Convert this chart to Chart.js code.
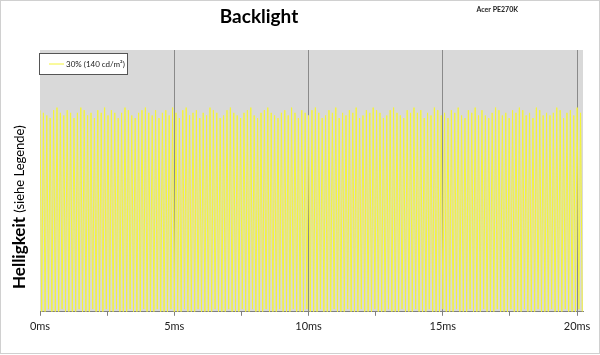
<!DOCTYPE html>
<html>
<head>
<meta charset="utf-8">
<script src="https://cdn.jsdelivr.net/npm/chart.js@4.4.1/dist/chart.umd.min.js"></script>
<style>
  body { margin: 0; background: #fff; }
  #wrap { width: 600px; height: 355px; }
</style>
</head>
<body>
<div id="wrap"><canvas id="myChart" width="600" height="355"></canvas></div>
<script>
// Chart texts
const chartTitle = "Backlight";
const deviceName = "Acer PE270K";
const seriesLabel = "30% (140 cd/m²)";

// x axis: tick positions (ms) and the labels shown under them
const tickValues = [0, 2.5, 5, 7.5, 10, 12.5, 15, 17.5, 20];
const tickLabels = ["0ms", "", "5ms", "", "10ms", "", "15ms", "", "20ms"];

// Sampling interval of the measurement (ms)
const sampleStepMs = 0.0633;

// Brightness samples (relative units)
const brightness = [
  77,0,76,0,75,1,74,0,77,0,78,0,76,1,75,0,77,0,76,0,
  74,0,76,1,78,0,77,0,75,0,76,1,74,0,77,0,76,0,78,1,
  75,0,77,0,76,1,74,0,76,0,78,0,77,1,75,0,74,0,76,0,
  77,1,78,0,76,0,75,0,77,1,74,0,76,0,77,0,75,1,78,0,
  76,0,74,0,77,1,78,0,75,0,76,0,77,1,74,0,76,0,75,0,
  78,0,77,1,76,0,74,0,75,0,77,1,78,0,76,0,75,0,74,1,
  76,0,77,0,78,1,75,0,74,0,76,0,77,1,78,0,76,0,75,0,
  74,1,76,0,77,0,75,0,78,1,76,0,74,0,77,0,76,1,75,0,
  77,0,78,0,76,1,74,0,75,0,77,0,76,1,78,0,74,0,76,0,
  75,1,77,0,76,0,78,0,74,1,75,0,77,0,76,0,78,1,77,0,
  76,0,74,0,75,1,77,0,78,0,76,0,75,1,74,0,77,0,76,0,
  78,1,76,0,77,0,74,0,76,1,75,0,78,0,77,0,75,1,76,0,
  74,0,77,0,76,1,78,0,75,0,74,0,77,1,76,0,78,0,75,0,
  77,1,75,0,74,0,76,0,78,1,77,0,75,0,76,0,74,1,77,0,
  76,0,78,0,77,1,75,0,76,0,74,0,78,1,77,0,75,0,76,0,
  75,1,76,0,78,0,77,0,74,1,76,0,77,0,75,0,78,1,76,0
];

const points = brightness.map((v, i) => ({ x: i * sampleStepMs, y: v }));

// Grey plot background, frame, title, legend and y title
const decorations = {
  id: "decorations",
  beforeDraw(chart) {
    const { ctx, chartArea: a } = chart;
    ctx.save();
    ctx.fillStyle = "#d9d9d9";
    ctx.fillRect(a.left, a.top, a.right - a.left, a.bottom - a.top);
    ctx.restore();
  },
  afterDraw(chart) {
    const ctx = chart.ctx;
    ctx.save();
    // frame
    ctx.strokeStyle = "#d0d0d0";
    ctx.lineWidth = 1;
    ctx.strokeRect(0.5, 0.5, 599, 353);

    // title
    ctx.fillStyle = "#000";
    ctx.textAlign = "center";
    ctx.textBaseline = "middle";
    ctx.font = "bold 19px Lato";
    ctx.fillText(chartTitle, 259, 17);

    ctx.font = "bold 7px Lato";
    ctx.textAlign = "right";
    ctx.fillStyle = "#222";
    ctx.fillText(deviceName, 518, 10);

    // legend box
    ctx.fillStyle = "#fff";
    ctx.fillRect(39, 53, 88, 21);
    ctx.strokeStyle = "#555";
    ctx.strokeRect(39.5, 53.5, 88, 21);
    ctx.strokeStyle = chart.data.datasets[0].borderColor;
    ctx.beginPath();
    ctx.moveTo(49, 64);
    ctx.lineTo(64, 64);
    ctx.stroke();
    ctx.fillStyle = "#222";
    ctx.textAlign = "left";
    ctx.font = "8px Lato";
    ctx.fillText(chart.data.datasets[0].label, 66, 64);

    // y axis title
    ctx.translate(20, 289);
    ctx.rotate(-Math.PI / 2);
    ctx.textAlign = "left";
    ctx.fillStyle = "#000";
    ctx.font = "bold 17px Lato";
    ctx.fillText("Helligkeit", 0, 0);
    const w = ctx.measureText("Helligkeit ").width;
    ctx.font = "13px Lato";
    ctx.fillText("(siehe Legende)", w, 0);
    ctx.restore();
  },
};

new Chart("myChart", {
  type: "line",
  data: {
    datasets: [
      {
        label: seriesLabel,
        data: points,
        borderColor: "#f4f43a",
        borderWidth: 1,
        pointRadius: 0,
        tension: 0,
        fill: false,
      },
    ],
  },
  options: {
    responsive: false,
    animation: false,
    layout: {
      padding: { left: 40, right: 17, top: 50, bottom: 18 },
    },
    scales: {
      x: {
        type: "linear",
        min: 0,
        max: 20.22,
        afterBuildTicks: (scale) => {
          scale.ticks = tickValues.map((v) => ({ value: v }));
        },
        ticks: {
          autoSkip: false,
          maxRotation: 0,
          padding: 4,
          color: "#222",
          font: { size: 11, family: "Lato" },
          callback: (value, index) => tickLabels[index],
        },
        grid: {
          color: (c) =>
            c.tick && c.tick.value > 0 && c.tick.value % 5 === 0
              ? "#8a8a8a"
              : "rgba(0,0,0,0)",
          tickColor: "#808080",
          tickLength: 4,
        },
        border: { color: "#808080" },
      },
      y: {
        display: false,
        min: 0,
        max: 100,
      },
    },
    plugins: {
      legend: { display: false },
      tooltip: { enabled: false },
    },
  },
  plugins: [decorations],
});
</script>
</body>
</html>
